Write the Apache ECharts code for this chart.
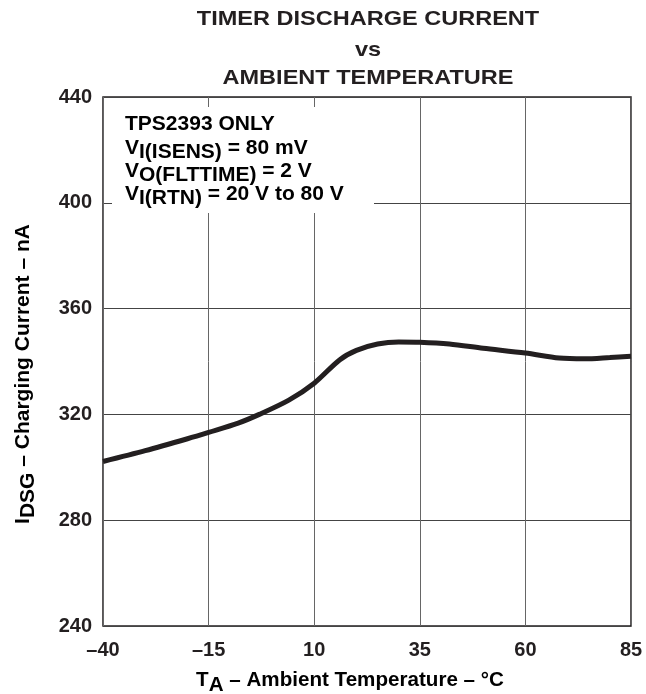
<!DOCTYPE html>
<html>
<head>
<meta charset="utf-8">
<script src="https://cdn.jsdelivr.net/npm/echarts@6/dist/echarts.min.js"></script>
<style>
html,body{margin:0;padding:0;background:#fff;}
#c{width:646px;height:694px;}
</style>
</head>
<body>
<div id="c"></div>
<script>
// Data
var temps = [-40, -30, -20, -15, -8, -3, 4, 10, 16, 20, 25, 30, 35, 42, 50, 60, 68, 74, 80, 85];
var current = [302.2, 306.3, 310.8, 313.2, 316.7, 320, 325.4, 331.8, 340.6, 344.2, 346.6, 347.4, 347.3, 346.6, 345.0, 343.2, 341.3, 341.0, 341.5, 342.0];
var xTicks = { min: -40, max: 85, interval: 25 };
var yTicks = { min: 240, max: 440, interval: 40 };
var titleLines = ['TIMER DISCHARGE CURRENT', 'vs', 'AMBIENT TEMPERATURE'];

var FONT = 'Liberation Sans, Arial, Helvetica, sans-serif';
var INK = '#231f20';

var chart = echarts.init(document.getElementById('c'), null, { renderer: 'canvas' });

function richBase(size, drop) {
  return {
    m: { fontSize: size, fontWeight: 'bold', fontFamily: FONT, color: INK, lineHeight: 22, verticalAlign: 'middle' },
    s: { fontSize: size, fontWeight: 'bold', fontFamily: FONT, color: INK, lineHeight: 22, verticalAlign: 'middle', padding: [drop, 0, 0, 0] }
  };
}

var annot = [
  '{m|TPS2393 ONLY}',
  '{m|V}{s|I(ISENS)}{m| = 80 mV}',
  '{m|V}{s|O(FLTTIME)}{m| = 2 V}',
  '{m|V}{s|I(RTN)}{m| = 20 V to 80 V}'
];
var annotY = [124, 148, 171, 194];

var graphics = [];
titleLines.forEach(function (t, i) {
  graphics.push({
    type: 'text', x: 368, y: [19, 50, 78][i], z: 20, scaleX: 1.12,
    style: { text: t, fill: INK, font: 'bold 21px ' + FONT, textAlign: 'center', textVerticalAlign: 'middle' }
  });
});
graphics.push({
  type: 'rect', z: 10, shape: { x: 112, y: 107, width: 262, height: 106 },
  style: { fill: '#fff' }
});
annot.forEach(function (t, i) {
  graphics.push({
    type: 'text', x: 125, y: annotY[i], z: 20, scaleX: 1.05,
    style: { text: t, rich: richBase(20, 8), textAlign: 'left', textVerticalAlign: 'middle' }
  });
});
graphics.push({
  type: 'text', x: 350, y: 680, z: 20, scaleX: 1.03,
  style: { text: '{m|T}{s|A}{m| – Ambient Temperature – °C}', rich: richBase(20, 10), textAlign: 'center', textVerticalAlign: 'middle' }
});
graphics.push({
  type: 'text', x: 23, y: 374, z: 20, rotation: Math.PI / 2, scaleX: 1.05,
  style: { text: '{m|I}{s|DSG}{m| – Charging Current – nA}', rich: richBase(20, 10), textAlign: 'center', textVerticalAlign: 'middle' }
});

var option = {
  backgroundColor: '#fff',
  animation: false,
  grid: { left: 103, right: 15, top: 97, bottom: 68, show: true, borderColor: INK, borderWidth: 1.5, backgroundColor: 'transparent' },
  xAxis: {
    type: 'value', min: xTicks.min, max: xTicks.max, interval: xTicks.interval,
    axisLine: { show: false }, axisTick: { show: false },
    splitLine: { show: true, lineStyle: { color: '#666', width: 1 } },
    axisLabel: { color: INK, fontSize: 20, fontWeight: 'bold', fontFamily: FONT, margin: 14,
      formatter: function (v) { return String(v).replace('-', '–'); } }
  },
  yAxis: {
    type: 'value', min: yTicks.min, max: yTicks.max, interval: yTicks.interval,
    axisLine: { show: false }, axisTick: { show: false },
    splitLine: { show: true, lineStyle: { color: '#444', width: 1 } },
    axisLabel: { color: INK, fontSize: 20, fontWeight: 'bold', fontFamily: FONT, margin: 11 }
  },
  series: [{
    type: 'line',
    data: temps.map(function (t, i) { return [t, current[i]]; }),
    smooth: 0.3,
    showSymbol: false,
    lineStyle: { color: INK, width: 5 },
    z: 5
  }],
  graphic: graphics
};
chart.setOption(option);
</script>
</body>
</html>
